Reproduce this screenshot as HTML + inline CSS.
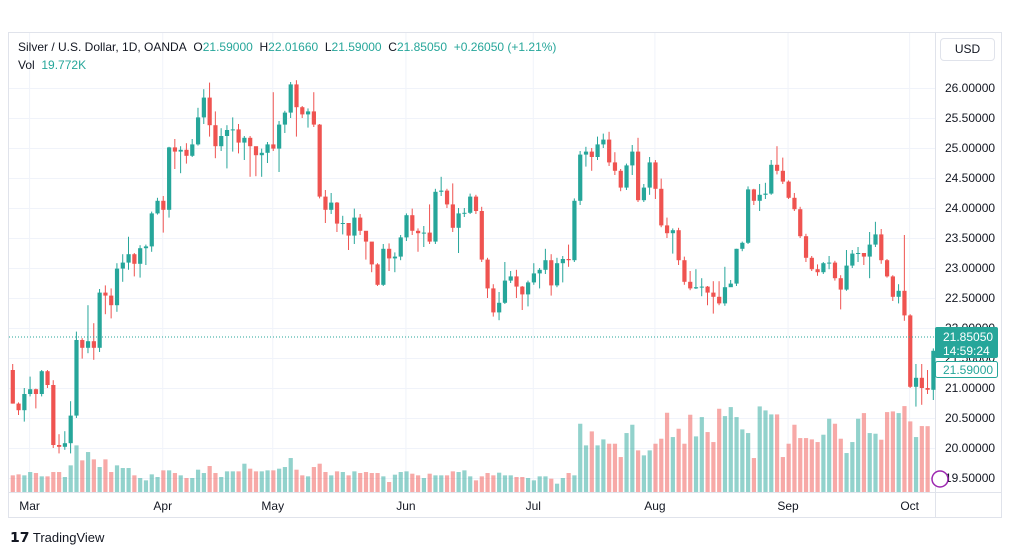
<!DOCTYPE html>
<html><head><meta charset="utf-8">
<style>
body{margin:0;width:1012px;height:555px;background:#fff;font-family:"Liberation Sans",sans-serif;overflow:hidden;position:relative}
.t{position:absolute;font-size:12px;color:#131722;white-space:nowrap}
</style></head><body>
<svg id="c" width="1012" height="555" style="position:absolute;left:0;top:0"></svg>
<div class="t" style="left:18px;top:40px">Silver / U.S. Dollar, 1D, OANDA&nbsp; <span style="color:#131722">O</span><span style="color:#26a69a">21.59000</span>&nbsp; H<span style="color:#26a69a">22.01660</span>&nbsp; L<span style="color:#26a69a">21.59000</span>&nbsp; C<span style="color:#26a69a">21.85050</span>&nbsp; <span style="color:#26a69a">+0.26050 (+1.21%)</span></div>
<div class="t" style="left:18px;top:58px">Vol&nbsp; <span style="color:#26a69a">19.772K</span></div>
<div class="t" style="left:940px;top:38px;width:55px;height:23px;border:1px solid #e0e3eb;border-radius:4px;box-sizing:border-box;line-height:21px;text-align:center">USD</div>
<div class="t" style="left:10px;top:529px;font-size:13px"><b style="font-size:14px">𝟭𝟳</b> TradingView</div>
<script>
const closes=[20.74,20.63,20.90,20.98,20.90,21.28,21.05,20.05,20.02,20.08,20.54,21.80,21.67,21.78,21.67,22.59,22.54,22.38,22.99,23.09,23.23,23.07,23.33,23.36,23.91,24.12,23.97,25.01,24.94,24.97,24.87,25.06,25.51,25.84,25.38,25.03,25.20,25.30,25.31,25.09,25.17,25.03,24.88,24.92,25.06,24.99,25.39,25.59,26.06,25.68,25.56,25.61,25.39,24.19,23.97,24.09,23.74,23.75,23.54,23.84,23.62,23.44,23.06,22.72,23.32,23.16,23.19,23.51,23.88,23.62,23.58,23.59,23.44,24.27,24.29,24.06,23.67,23.91,23.92,24.19,23.95,23.14,22.66,22.26,22.42,22.79,22.86,22.69,22.56,22.76,22.91,22.97,23.13,22.71,23.08,23.15,23.13,24.12,24.89,24.94,24.85,25.06,25.14,24.76,24.62,24.34,24.71,24.94,24.13,24.34,24.76,24.32,23.71,23.58,23.63,23.13,22.77,22.66,22.68,22.69,22.59,22.52,22.41,22.68,22.74,23.32,23.42,24.31,24.12,24.22,24.24,24.72,24.62,24.44,24.17,23.98,23.53,23.17,22.98,22.93,23.08,23.09,22.83,22.64,23.04,23.24,23.25,23.19,23.39,23.56,23.13,22.86,22.52,22.62,22.21,21.02,21.17,21.00,20.97,21.62];
const highs=[21.40,20.76,21.00,21.19,20.99,21.30,21.30,21.13,20.23,20.28,20.78,21.94,21.83,22.38,22.08,22.65,22.71,22.66,23.08,23.23,23.52,23.25,23.38,23.39,23.94,24.17,24.20,25.02,25.15,25.03,25.08,25.15,25.67,25.98,26.09,25.61,25.33,25.38,25.51,25.40,25.20,25.20,24.98,24.99,25.10,25.93,25.45,25.62,26.10,26.13,25.70,25.66,25.93,25.40,24.30,24.25,24.10,23.87,23.75,23.99,23.90,23.60,23.42,23.08,23.40,23.41,23.26,23.55,23.91,23.99,23.66,23.70,24.06,24.32,24.52,24.32,24.41,24.00,24.00,24.24,24.22,24.02,23.17,22.73,22.60,23.10,22.95,22.97,22.70,22.79,23.08,23.00,23.32,23.23,23.17,23.20,23.39,24.16,24.95,25.02,25.00,25.19,25.24,25.27,24.93,24.65,24.74,25.05,25.17,24.40,24.85,24.80,24.49,23.84,23.66,23.67,23.19,22.95,22.98,22.83,22.70,22.78,22.78,23.02,22.80,23.32,23.44,24.36,24.32,24.40,24.42,24.80,25.03,24.84,24.46,24.25,24.02,23.57,23.20,23.06,23.10,23.20,23.12,22.88,23.30,23.30,23.35,23.24,23.60,23.77,23.65,23.15,22.88,22.73,23.55,22.23,21.40,21.40,21.30,21.66];
const lows=[20.74,20.55,20.44,20.86,20.66,20.86,21.00,20.00,19.91,19.97,19.91,20.50,21.49,21.58,21.47,21.60,22.23,22.16,22.27,22.77,22.97,22.86,22.84,23.05,23.27,23.89,23.59,23.84,24.65,24.58,24.74,24.85,25.04,25.40,25.19,24.83,24.95,24.66,24.94,24.91,24.80,24.52,24.53,24.52,24.75,24.95,24.60,25.25,25.50,25.19,25.50,25.34,25.35,24.16,23.75,23.90,23.60,23.56,23.30,23.40,23.55,23.14,22.93,22.70,22.70,22.95,22.93,23.13,23.45,23.55,23.27,23.35,23.40,23.40,24.20,24.00,23.60,23.25,23.85,23.90,23.90,23.10,22.50,22.19,22.13,22.40,22.75,22.50,22.30,22.36,22.72,22.66,22.90,22.54,22.68,22.76,23.02,23.10,24.05,24.69,24.62,24.80,25.00,24.70,24.55,24.28,24.30,24.55,24.10,24.10,24.22,24.15,23.68,23.50,23.24,23.05,22.72,22.63,22.65,22.53,22.38,22.24,22.38,22.37,22.70,22.70,23.28,23.40,24.05,23.95,24.15,24.22,24.56,24.40,24.15,23.95,23.50,23.10,22.95,22.87,22.90,22.98,22.79,22.31,22.62,23.00,23.10,23.05,22.83,23.35,23.07,22.84,22.45,22.41,22.12,21.00,20.69,20.72,20.90,20.80];
const volumes=[5.0,5.3,5.0,6.0,5.7,4.7,4.7,6.0,6.0,4.5,8.0,14.0,9.5,12.0,9.8,7.5,9.8,6.0,8.0,7.2,7.2,5.0,4.2,3.5,5.3,4.5,6.5,6.5,5.7,5.0,4.2,4.2,6.7,5.7,7.8,5.7,4.5,6.2,6.2,6.2,8.5,7.0,6.2,6.2,6.5,6.5,7.0,7.5,10.2,6.7,5.0,4.7,7.5,8.5,6.0,5.0,6.2,6.0,5.0,6.2,5.7,6.0,5.7,5.7,4.7,3.0,5.2,6.0,6.2,5.5,5.0,4.2,5.5,5.0,5.0,5.0,6.2,6.0,6.5,4.7,3.5,4.7,5.7,5.0,5.8,5.0,5.0,4.5,4.5,4.2,3.5,4.7,4.7,4.0,2.5,4.2,5.7,5.0,20.5,14.0,18.2,14.0,15.8,14.5,14.5,10.5,17.7,20.2,12.5,11.0,12.5,14.5,16.0,23.8,16.5,19.0,14.5,23.2,16.7,22.5,18.0,15.0,25.0,22.8,25.5,22.5,18.8,17.7,10.2,25.7,24.5,23.3,23.3,10.5,14.5,20.2,16.2,16.2,15.8,15.0,17.2,22.0,20.5,16.0,11.7,15.0,22.0,23.7,17.7,17.5,15.7,24.0,24.2,23.7,25.8,21.2,16.5,19.8,19.77];
const firstOpen=21.30;
const priceTicks=[26.0,25.5,25.0,24.5,24.0,23.5,23.0,22.5,22.0,21.5,21.0,20.5,20.0,19.5];
const monthLabels=["Mar","Apr","May","Jun","Jul","Aug","Sep","Oct"];
const monthStartIndex=[3,26,45,68,90,111,134,155];
const lastPrice=21.8505, openPrice=21.59;

const NS="http://www.w3.org/2000/svg",svg=document.getElementById('c');
const Y=p=>88+(26-p)*60;
const X=i=>12.7+i*5.79;
const VB=492, VH=v=>v*3.33;
function el(t,a){const e=document.createElementNS(NS,t);for(const k in a)e.setAttribute(k,a[k]);svg.appendChild(e);return e;}
// frame
let f=el('rect',{x:8.5,y:32.5,width:993,height:485,fill:'none',stroke:'#e0e3eb'});


let ax=el('line',{x1:935.5,x2:935.5,y1:33,y2:517,stroke:'#e0e3eb'});


let tx=el('line',{x1:9,x2:1001,y1:492.5,y2:492.5,stroke:'#e0e3eb'});


priceTicks.forEach(p=>{
  const g=el('line',{x1:9,x2:935,y1:Y(p)+.5,y2:Y(p)+.5,stroke:'#f0f3fa'});
  
  
  const t=el('text',{x:945,y:Y(p)+4,'font-size':12,fill:'#131722','font-family':'Liberation Sans'});
  t.textContent=p.toFixed(5);
  
  
});
monthLabels.forEach((m,k)=>{
  const x=X(monthStartIndex[k])-0.5;
  const g=el('line',{x1:x,x2:x,y1:33,y2:492,stroke:'#f0f3fa'});
  
  
  const t=el('text',{x:x,y:510,'font-size':12,fill:'#131722','text-anchor':'middle','font-family':'Liberation Sans'});
  t.textContent=m;
  
  
});
closes.forEach((c,i)=>{
  const o=i?closes[i-1]:firstOpen, up=c>=o;
  const col=up?'#26a69a':'#ef5350', x=X(i);
  const v=el('rect',{x:x-2,y:VB-VH(volumes[i]),width:4.2,height:VH(volumes[i]),fill:up?'rgba(38,166,154,0.5)':'rgba(239,83,80,0.5)'});
  
  
});
closes.forEach((c,i)=>{
  const o=i?closes[i-1]:firstOpen, up=c>=o;
  const col=up?'#26a69a':'#ef5350', x=X(i);
  const w=el('line',{x1:x,x2:x,y1:Y(highs[i]),y2:Y(lows[i]),stroke:col,'stroke-width':1});
  
  
  const top=Y(Math.max(o,c)),h=Math.max(1,Math.abs(Y(o)-Y(c)));
  const b=el('rect',{x:x-2,y:top,width:4.2,height:h,fill:col});
  
  
});
let pl=el('line',{x1:9,x2:935,y1:Y(lastPrice),y2:Y(lastPrice),stroke:'#26a69a','stroke-dasharray':'1 2'});


let lb=el('rect',{x:935,y:Y(lastPrice)-10,width:63,height:31,rx:2,fill:'#26a69a'});


let t1=el('text',{x:943,y:Y(lastPrice)+4,'font-size':12,fill:'#fff','font-family':'Liberation Sans'});t1.textContent=lastPrice.toFixed(5);


let t2=el('text',{x:943,y:Y(lastPrice)+18,'font-size':12,fill:'#fff','font-family':'Liberation Sans'});t2.textContent='14:59:24';


let ob=el('rect',{x:935.5,y:361.5,width:62,height:16,rx:2,fill:'#fff',stroke:'#26a69a'});


let t3=el('text',{x:943,y:374,'font-size':12,fill:'#26a69a','font-family':'Liberation Sans'});t3.textContent=openPrice.toFixed(5);


let ic=el('circle',{cx:940,cy:479,r:8,fill:'#fff',stroke:'#9c27b0','stroke-width':1.5});


</script>
</body></html>
